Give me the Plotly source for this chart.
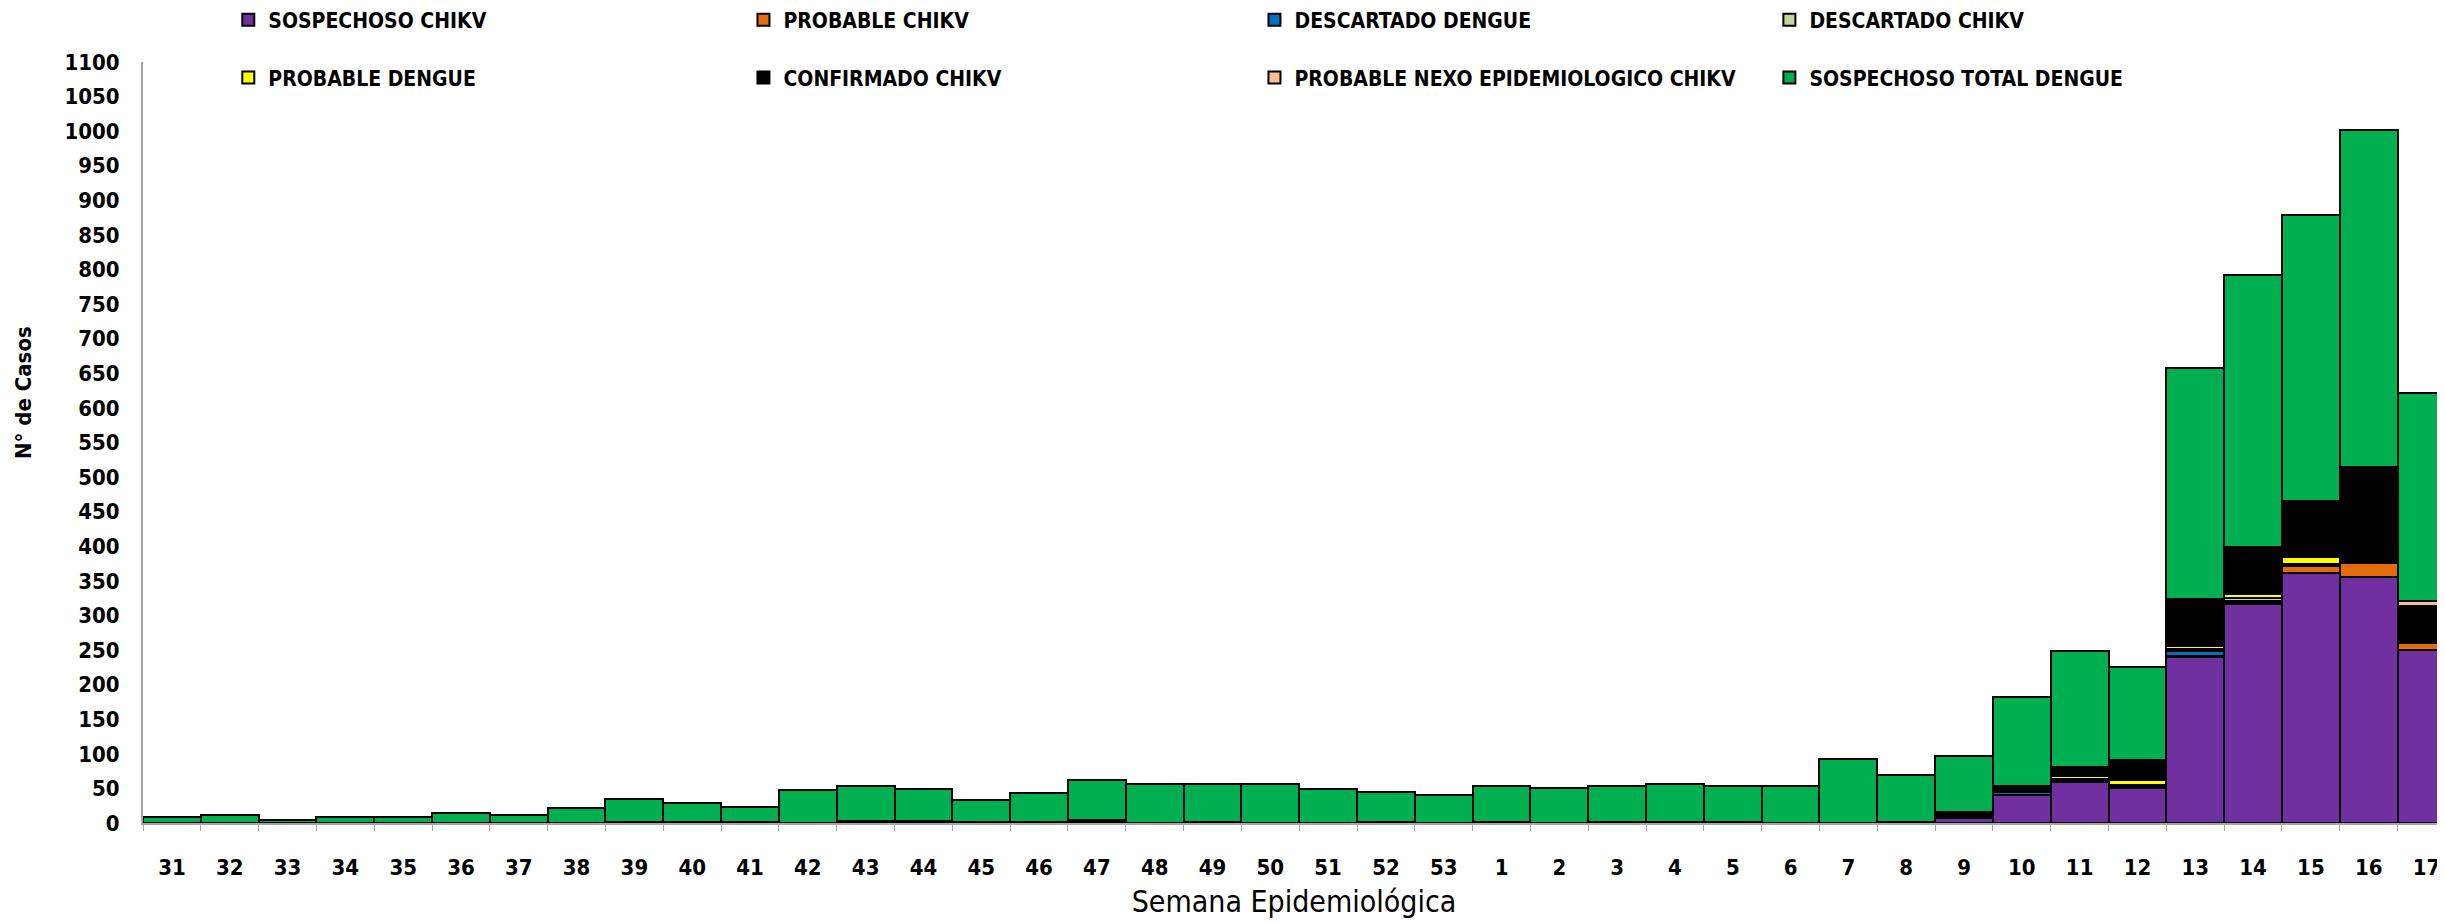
import plotly.graph_objects as go

weeks = [str(w) for w in range(31, 54)] + [str(w) for w in range(1, 18)]

sosp_chikv = [0, 0, 0, 0, 0, 0, 0, 0, 0, 0, 0, 0, 0, 0, 0, 0, 0, 0, 0, 0, 0, 0, 0,
              0, 0, 0, 0, 0, 0, 0, 0, 7, 40, 59, 51, 240, 317, 362, 355, 250]
prob_chikv = [0, 0, 0, 0, 0, 0, 0, 0, 0, 0, 0, 0, 0, 1, 1, 0, 0, 0, 0, 0, 0, 1, 0,
              1, 0, 0, 0, 1, 0, 0, 1, 0, 0, 0, 3, 1, 1, 9, 21, 10]
desc_dengue = [0, 0, 0, 0, 0, 0, 0, 0, 0, 0, 0, 0, 0, 0, 0, 0, 2, 0, 0, 0, 0, 0, 0,
               0, 0, 0, 0, 0, 0, 0, 0, 0, 5, 3, 0, 7, 3, 1, 1, 0]
desc_chikv = [0, 0, 0, 0, 0, 0, 0, 0, 0, 0, 0, 0, 0, 0, 0, 0, 0, 0, 0, 0, 0, 0, 0,
              0, 0, 0, 0, 0, 0, 0, 0, 0, 0, 1, 1, 3, 4, 2, 1, 0]
prob_dengue = [0, 0, 0, 0, 0, 0, 0, 0, 0, 0, 0, 0, 2, 0, 0, 0, 0, 0, 0, 0, 0, 0, 0,
               0, 0, 1, 0, 1, 0, 0, 0, 0, 0, 5, 7, 5, 6, 11, 3, 1]
conf_chikv = [0, 0, 0, 0, 0, 0, 0, 0, 1, 1, 1, 0, 1, 2, 1, 1, 2, 0, 1, 0, 0, 1, 0,
              1, 0, 0, 1, 0, 0, 0, 1, 9, 9, 13, 29, 68, 66, 79, 131, 53]
nexo_chikv = [0, 0, 0, 0, 0, 0, 0, 0, 0, 0, 0, 0, 0, 0, 0, 0, 0, 0, 0, 0, 0, 0, 0,
              0, 0, 0, 0, 0, 0, 0, 0, 0, 0, 0, 0, 0, 2, 1, 2, 7]
sosp_dengue = [8, 12, 5, 9, 8, 15, 12, 21, 34, 28, 22, 47, 50, 46, 31, 43, 58, 57, 56, 57, 49, 43, 41,
               51, 50, 53, 55, 52, 53, 92, 68, 81, 128, 167, 135, 334, 393, 414, 488, 301]

names = ["SOSPECHOSO CHIKV", "PROBABLE CHIKV", "DESCARTADO DENGUE", "DESCARTADO CHIKV",
         "PROBABLE DENGUE", "CONFIRMADO CHIKV", "PROBABLE NEXO EPIDEMIOLOGICO CHIKV",
         "SOSPECHOSO TOTAL DENGUE"]
values = [sosp_chikv, prob_chikv, desc_dengue, desc_chikv, prob_dengue, conf_chikv, nexo_chikv, sosp_dengue]
colors = ["#7030A0", "#E46C0A", "#0070C0", "#C3D69B", "#FFFF00", "#000000", "#FAC090", "#00B050"]

FONT = "Liberation Sans Narrow, DejaVu Sans Condensed, Arial Narrow, sans-serif"

# legend entry placement (container coords): 4 columns x 2 rows
leg_x = [0.0901, 0.3008, 0.5098, 0.7204]
leg_y = [0.987, 0.9242]

fig = go.Figure()
legends = {}
for i, (name, vals, color) in enumerate(zip(names, values, colors)):
    lid = "legend" if i == 0 else f"legend{i + 1}"
    fig.add_trace(go.Bar(
        x=weeks, y=vals, name=name, legend=lid, showlegend=True,
        marker=dict(color=color, line=dict(color="#000000", width=2)),
    ))
    legends[lid] = dict(
        x=leg_x[i % 4], y=leg_y[i // 4], xref="container", yref="container",
        xanchor="left", yanchor="middle", orientation="h", visible=True,
        font=dict(family=FONT, size=21, color="#000000", weight="bold"),
        bgcolor="rgba(0,0,0,0)", itemwidth=30,
    )

fig.update_layout(
    width=2445, height=923,
    showlegend=True,
    barmode="stack", bargap=0,
    plot_bgcolor="white", paper_bgcolor="white",
    margin=dict(l=135, r=8, t=54, b=108, autoexpand=False),
    font=dict(family=FONT, size=24, color="#000000"),
    xaxis=dict(
        type="category", range=[-0.5, 39.32],
        showline=True, linecolor="#A6A6A6", linewidth=2,
        ticks="outside", tickson="boundaries", ticklen=6, tickcolor="#A6A6A6",
        tickfont=dict(family=FONT, size=22, color="#000000", weight="bold"),
        ticklabelstandoff=24,
        title=dict(text="Semana Epidemiológica", font=dict(family=FONT, size=30, color="#000000"), standoff=12),
        showgrid=False,
    ),
    yaxis=dict(
        range=[0, 1100], dtick=50, tick0=0,
        showline=True, linecolor="#A6A6A6", linewidth=2,
        ticks="", showgrid=False, zeroline=False,
        tickfont=dict(family=FONT, size=22, color="#000000", weight="bold"),
        ticklabelstandoff=17,
    ),
    annotations=[dict(
        text="<b>N° de Casos</b>", textangle=-90, showarrow=False,
        xref="paper", yref="paper", x=-0.0521, y=0.565, xanchor="center", yanchor="middle",
        font=dict(family=FONT, size=22, color="#000000"),
    )],
    **legends,
)

fig.write_html("out.html")
